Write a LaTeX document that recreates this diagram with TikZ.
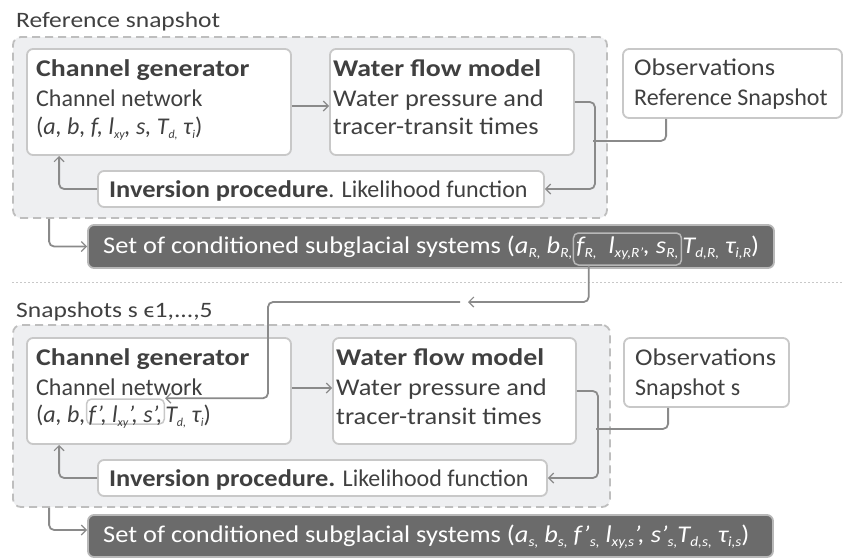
\documentclass[tikz,border=0pt]{standalone}
\usepackage{fontspec}
\setmainfont{Carlito}
\newfontfamily\broadfont[FakeStretch=1.1]{Carlito}
\newfontfamily\widefont[FakeStretch=1.16]{Carlito}
\usetikzlibrary{arrows.meta,positioning,calc}

\definecolor{inkgray}{HTML}{404040}
\definecolor{flowgray}{HTML}{8A8A8A}
\definecolor{blockgray}{HTML}{C8C8C8}
\definecolor{dashgray}{HTML}{BEBEBE}
\definecolor{panelfill}{HTML}{EEEFF1}
\definecolor{resultfill}{HTML}{6B6B6B}
\definecolor{resultline}{HTML}{B8B8B8}

\newcommand{\subidx}[2][12]{\raisebox{-4pt}{\fontsize{#1}{#1}\selectfont #2}}

\tikzset{
  panel/.style={draw=dashgray, fill=panelfill, dash pattern=on 8pt off 5pt, line width=1.8pt, rounded corners=8pt, inner sep=0pt},
  block/.style={draw=blockgray, fill=white, line width=1.8pt, rounded corners=6pt, inner sep=0pt},
  result/.style={draw=resultline, fill=resultfill, line width=1.8pt, rounded corners=6pt, inner sep=0pt},
  txt/.style={anchor=base west, inner sep=0pt, text=inkgray, font=\fontsize{24}{29}\selectfont},
  head/.style={txt, font=\fontsize{24}{29}\selectfont\widefont\bfseries},
  title/.style={txt, font=\fontsize{22}{29}\selectfont\widefont},
  settxt/.style={txt, text=white, font=\fontsize{24}{29}\selectfont\broadfont},
  conn/.style={draw=flowgray, line width=1.8pt, rounded corners=5pt, -{Straight Barb[length=5pt,width=10pt,line width=1.2pt]}},
  link/.style={draw=flowgray, line width=1.8pt, rounded corners=5pt},
}

\begin{document}
\begin{tikzpicture}[x=1pt, y=-1pt]
\useasboundingbox (0,0) rectangle (851,558);

% reference snapshot
\node[title] (title1) at (16,27) {Reference snapshot};
\node[panel, minimum width=594pt, minimum height=181pt] (panel1) at (310,127.5) {};

\node[block, minimum width=264pt, minimum height=106pt] (gen1) at (159,102) {};
\node[head] (gen1a) at (36,76) {Channel generator};
\node[txt] (gen1b) at (36,106) {Channel network};
\node[txt] (gen1c) at (36,134) {(\textit{a, b, f, l\subidx{xy}, s, T\subidx{d,} τ\subidx{i}})};

\node[block, minimum width=244pt, minimum height=106pt] (flow1) at (452,102) {};
\node[head] (flow1a) at (333,76) {Water flow model};
\node[txt] (flow1b) at (333,106) {\broadfont Water pressure and};
\node[txt] (flow1c) at (333,134) {\broadfont tracer-transit times};

\node[block, minimum width=219pt, minimum height=69pt] (obs1) at (732.5,83.5) {};
\node[txt] (obs1a) at (634,75) {\broadfont Observations};
\node[txt] (obs1b) at (634,105) {Reference Snapshot};

\node[block, minimum width=446pt, minimum height=36pt] (inv1) at (321,189) {};
\node[txt] (inv1a) at (109,197) {{\broadfont\bfseries Inversion procedure}. Likelihood function};

\node[result, minimum width=686pt, minimum height=43pt] (set1) at (431,246.5) {};
\node[settxt] (set1a) at (103,253) {Set of conditioned subglacial systems (\textit{a\subidx[14]{R,} b\subidx[14]{R,}}};
\node[settxt, draw=resultline, line width=1.5pt, rounded corners=5pt, inner xsep=3pt, inner ysep=4pt, text height=16pt, text depth=8pt] (set1f) at (set1a.base east) {\textit{f\subidx[14]{R,}\ \ l\subidx[14]{xy,R’}, s\subidx[14]{R,}}};
\node[settxt] (set1e) at (set1f.base east) {\textit{T\subidx[14]{d,R,} τ\subidx[14]{i,R}})};

\draw[conn] ([yshift=-4pt]gen1.east) -- ([yshift=-4pt]flow1.west);
\draw[conn] (flow1.east) -- ++(20,0) |- (inv1.east);
\draw[link] ([xshift=44pt]obs1.south west) |- ++(-73,22);
\draw[conn] (inv1.west) -| ([xshift=33pt]gen1.south west);
\draw[conn] ([xshift=37pt]panel1.south west) |- (set1.west);

% separator
\draw[blockgray, line width=0.8pt, dash pattern=on 2pt off 2pt] (12,282) -- (842,282);

% snapshots s
\node[title] (title2) at (16,317) {Snapshots s ϵ1,...,5};
\node[panel, minimum width=597pt, minimum height=182pt] (panel2) at (311.5,416) {};

\node[block, minimum width=264pt, minimum height=106pt] (gen2) at (159,391) {};
\node[head] (gen2a) at (36,365) {Channel generator};
\node[txt] (gen2b) at (36,395) {Channel network};
\node[txt] (gen2c) at (36,422) {(\textit{a, b,}};
\node[txt, draw=blockgray, line width=1.5pt, rounded corners=5pt, inner xsep=2pt, inner ysep=2pt, text height=21pt, text depth=0pt] (gen2f) at (gen2c.base east) {\textit{f’, l\subidx{xy}’, s’,}};
\node[txt] (gen2d) at (gen2f.base east) {\textit{T\subidx{d,} τ\subidx{i}})};

\node[block, minimum width=243pt, minimum height=106pt] (flow2) at (454.5,391) {};
\node[head] (flow2a) at (336,365) {Water flow model};
\node[txt] (flow2b) at (336,395) {\broadfont Water pressure and};
\node[txt] (flow2c) at (336,424) {\broadfont tracer-transit times};

\node[block, minimum width=165pt, minimum height=69pt] (obs2) at (706.5,372.5) {};
\node[txt] (obs2a) at (635,365) {\broadfont Observations};
\node[txt] (obs2b) at (635,395) {Snapshot s};

\node[block, minimum width=449pt, minimum height=36pt] (inv2) at (322.5,478) {};
\node[txt] (inv2a) at (109,486) {{\broadfont\bfseries Inversion procedure.} Likelihood function};

\node[result, minimum width=685pt, minimum height=42pt] (set2) at (430.5,536) {};
\node[settxt] (set2a) at (103,542) {Set of conditioned subglacial systems (\textit{a\subidx[14]{s,} b\subidx[14]{s,} f’\subidx[14]{s,} l\subidx[14]{xy,s}’, s’\subidx[14]{s,}T\subidx[14]{d,s,} τ\subidx[14]{i,s}})};

\draw[conn] ([yshift=3pt]gen2.east) -- ([yshift=3pt]flow2.west);
\draw[conn] (flow2.east) -- ++(21,0) |- (inv2.east);
\draw[link] ([xshift=45pt]obs2.south west) |- ++(-72,21);
\draw[conn] (inv2.west) -| ([xshift=33pt]gen2.south west);
\draw[conn] ([xshift=37pt]panel2.south west) |- ([yshift=6pt]set2.west);

% conditioned parameters carried to the next snapshots
\coordinate (gapR) at (468,302);
\coordinate (gapL) at (460,302);
\draw[conn] ([xshift=16pt]set1f.south west) |- (gapR);
\draw[link, -{Straight Barb[length=5pt,width=10pt,line width=1.2pt]}] (gapL) -- ++(-192,0) |- (gen2f.north east);
\end{tikzpicture}
\end{document}
